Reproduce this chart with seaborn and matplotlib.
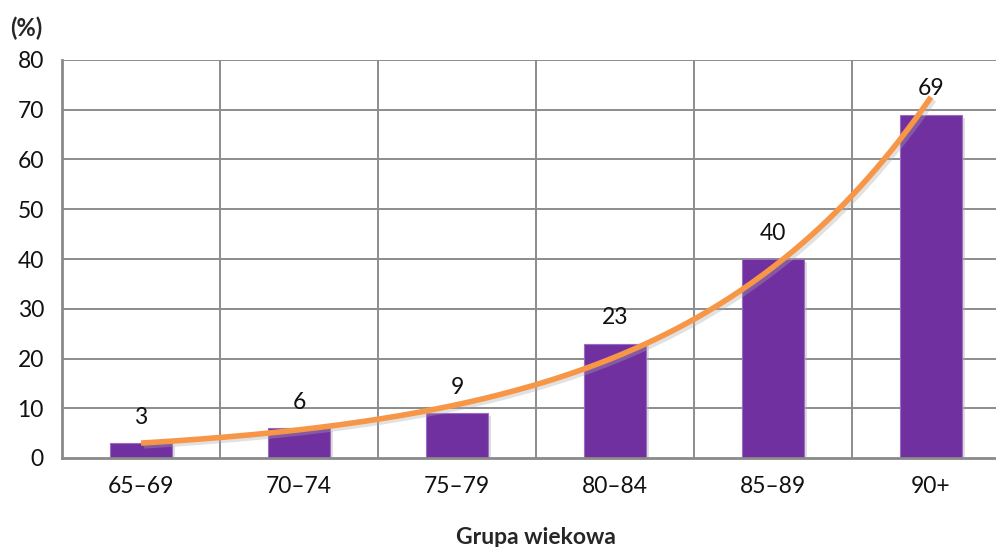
import numpy as np
import pandas as pd
import matplotlib
matplotlib.use("Agg")
import matplotlib.pyplot as plt
import matplotlib.patheffects as pe
import seaborn as sns

categories = ["65–69", "70–74", "75–79", "80–84", "85–89", "90+"]
values = [3, 6, 9, 23, 40, 69]
y_ticks = [0, 10, 20, 30, 40, 50, 60, 70, 80]
y_label = "(%)"
x_label = "Grupa wiekowa"

sns.set_style("white")
plt.rcParams["font.family"] = ["Lato", "DejaVu Sans"]

df = pd.DataFrame({"grupa": categories, "wartosc": values})

fig = plt.figure(figsize=(9.96, 5.47), dpi=100)
ax = fig.add_axes([62/996, 89/547, 948/996, 398/547])

sns.barplot(data=df, x="grupa", y="wartosc", color="#7030A0", width=0.39,
            saturation=1, ax=ax, edgecolor="#9a6cc4", linewidth=0.8, zorder=3)
for p in ax.patches:
    p.set_path_effects([pe.SimplePatchShadow(offset=(2, -2), shadow_rgbFace="#b0b0b0", alpha=0.4), pe.Normal()])

ax.set_xlim(-0.5, len(categories) - 0.5)
ax.set_ylim(0, 80)
ax.set_yticks(y_ticks)
ax.set_yticklabels([str(t) for t in y_ticks], fontsize=16.5, color="#111111")
ax.set_xticks(range(len(categories)))
ax.set_xticklabels(categories, fontsize=16.5, color="#111111")
ax.tick_params(axis="x", which="major", length=0, pad=13)
ax.set_xticks(np.arange(-0.5, len(categories) + 0.5, 1), minor=True)
ax.tick_params(axis="x", which="minor", length=7, width=1.5, color="#8a8a8a")
ax.tick_params(axis="y", which="major", length=7, width=1.5, color="#8a8a8a", pad=6)

for t in y_ticks[1:]:
    ax.axhline(t, color="#8c8c8c", lw=1.4, zorder=1)
for b in np.arange(0.5, len(categories) - 0.5, 1):
    ax.axvline(b, color="#8c8c8c", lw=1.4, zorder=1)

for s in ["top", "right"]:
    ax.spines[s].set_visible(False)
for s in ["left", "bottom"]:
    ax.spines[s].set_color("#8a8a8a")
    ax.spines[s].set_linewidth(2)
    ax.spines[s].set_zorder(4)

# exponential trendline fitted to the data
xi = np.arange(1, len(values) + 1)
b, a = np.polyfit(xi, np.log(values), 1)
xf = np.linspace(1, len(values), 300)
yf = np.exp(a + b * xf)
ax.plot(xf - 1, yf, color="#F79646", lw=4, zorder=5, solid_capstyle="butt",
        path_effects=[pe.SimpleLineShadow(offset=(2, -2), shadow_color="#aaaaaa", alpha=0.35), pe.Normal()])

for i, v in enumerate(values):
    ax.annotate(str(v), (i, v), xytext=(0, 11), textcoords="offset points",
                ha="center", va="bottom", fontsize=16.5, color="#111111", zorder=6)

ax.set_xlabel("")
ax.set_ylabel("")
fig.text(10/996, 1 - 28/547, y_label, fontsize=17, fontweight="bold", ha="left", va="center")
fig.text(536/996, 1 - 537/547, x_label, fontsize=16.5, fontweight="bold", ha="center", va="center")

fig.savefig("out.png", dpi=100)
